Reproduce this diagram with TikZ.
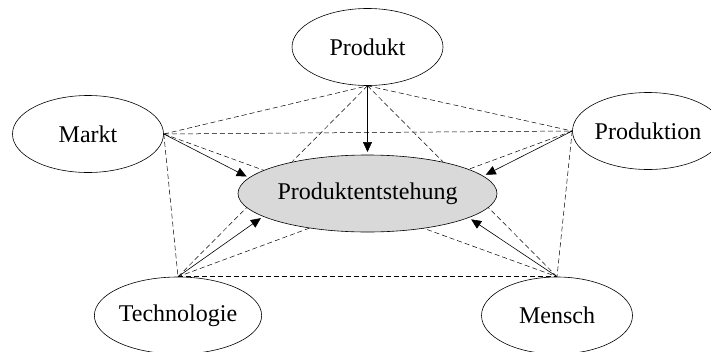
\documentclass[tikz,border=0pt]{standalone}
\usepackage{fontspec}
\setmainfont{Liberation Serif}
\usetikzlibrary{shapes.geometric,arrows.meta}

\tikzset{
  outer/.style={ellipse, draw=black, line width=0.6pt, fill=white,
    minimum width=151pt, minimum height=77pt, inner sep=0pt,
    font=\fontsize{24}{28}\selectfont},
  core/.style={ellipse, draw=black, line width=0.6pt, fill=gray!30,
    minimum width=259pt, minimum height=77pt, inner sep=0pt, outer sep=3pt,
    font=\fontsize{24}{28}\selectfont},
  link/.style={dashed, dash pattern=on 5pt off 3pt, line width=0.5pt},
  flow/.style={line width=0.6pt, -{Triangle[length=10pt,width=9pt]}}
}

\begin{document}
\begin{tikzpicture}[x=1pt,y=-1pt]
  \clip (0,0) rectangle (711,351);
  \fill[white] (0,0) rectangle (711,351);

  % outer influence factors
  \node[outer] (produkt)     at (367.5,47)  {Produkt};
  \node[outer] (markt)       at (88,134)    {Markt};
  \node[outer] (produktion)  at (648,131)   {Produktion};
  \node[outer] (technologie) at (178,315.5) {Technologie};
  \node[outer] (mensch)      at (557,315.5) {Mensch};

  % mutual relations between all factors
  \draw[link] (markt.east) -- (produkt.south);
  \draw[link] (markt.east) -- (produktion.west);
  \draw[link] (markt.east) -- (technologie.north);
  \draw[link] (markt.east) -- (mensch.north);
  \draw[link] (produkt.south) -- (produktion.west);
  \draw[link] (produkt.south) -- (technologie.north);
  \draw[link] (produkt.south) -- (mensch.north);
  \draw[link] (produktion.west) -- (technologie.north);
  \draw[link] (produktion.west) -- (mensch.north);
  \draw[link] (technologie.north) -- (mensch.north);

  % central process
  \node[core] (pe) at (367.5,193.5) {Produktentstehung};

  % influences on the central process
  \draw[flow] (markt.east) -- (pe.172);
  \draw[flow] (produkt.south) -- (pe.north);
  \draw[flow] (produktion.west) -- (pe.9);
  \draw[flow] (technologie.north) -- (pe.193);
  \draw[flow] (mensch.north) -- (pe.346);
\end{tikzpicture}
\end{document}
